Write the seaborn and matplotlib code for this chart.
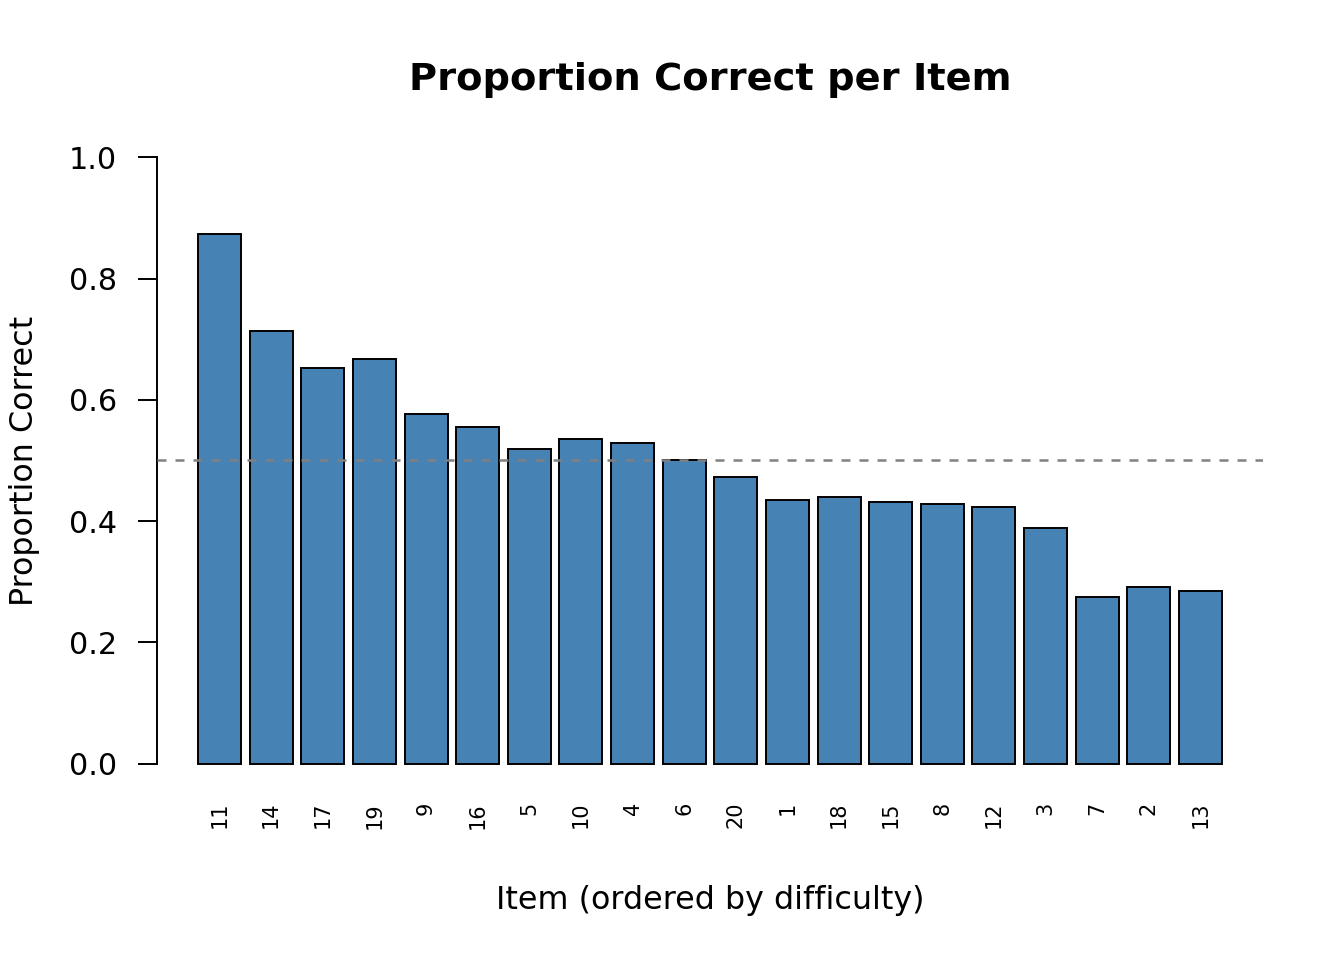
import numpy as np
import pandas as pd
import matplotlib
matplotlib.use("Agg")
import matplotlib.pyplot as plt
import seaborn as sns

# items ordered by difficulty, proportion correct
items = ["11", "14", "17", "19", "9", "16", "5", "10", "4", "6",
         "20", "1", "18", "15", "8", "12", "3", "7", "2", "13"]
prop_correct = [0.873, 0.713, 0.652, 0.667, 0.577, 0.555, 0.519, 0.535, 0.529, 0.501,
                0.473, 0.435, 0.440, 0.432, 0.428, 0.423, 0.389, 0.275, 0.292, 0.285]
chance_line = 0.5

sns.set_style("white")
plt.rcParams['font.family'] = ['DejaVu Sans']
plt.rcParams['text.color'] = 'black'
plt.rcParams['axes.labelcolor'] = 'black'
plt.rcParams['xtick.color'] = 'black'
plt.rcParams['ytick.color'] = 'black'

df = pd.DataFrame({"item": items, "prop": prop_correct})

fig = plt.figure(figsize=(13.44, 9.6), dpi=100)
ax = fig.add_axes([157/1344, 1 - 788/960, 1106/1344, 655/960])

sns.barplot(data=df, x="item", y="prop", order=items, color="steelblue",
            saturation=1, edgecolor="black", linewidth=1.4, width=0.833, ax=ax)

# reference line at 0.5
ax.axhline(chance_line, color="#808080", linestyle=(0, (3.6, 3.6)), linewidth=1.8, zorder=5)

ax.set_xlim(-1.21, 20.21)
ax.set_ylim(-0.04, 1.04)
ax.set_yticks([0.0, 0.2, 0.4, 0.6, 0.8, 1.0])
ax.set_yticklabels(["0.0", "0.2", "0.4", "0.6", "0.8", "1.0"])

for s in ["top", "right", "bottom"]:
    ax.spines[s].set_visible(False)
ax.spines["left"].set_bounds(0, 1)
ax.spines["left"].set_linewidth(1.4)
ax.spines["left"].set_color("black")

ax.tick_params(axis="y", length=13.7, width=1.4, labelsize=21.8, pad=15, left=True)
ax.tick_params(axis="x", length=0, labelsize=15, pad=10)
for lab in ax.get_xticklabels():
    lab.set_rotation(90)
    lab.set_va("top")
    lab.set_ha("center")

ax.set_xlabel("Item (ordered by difficulty)", fontsize=22.9, va="center")
ax.set_ylabel("Proportion Correct", fontsize=22.9, va="center")
ax.xaxis.set_label_coords(0.5, (788 - 900) / 655)
ax.yaxis.set_label_coords((25 - 157) / 1106, 0.5)

fig.text(710/1344, 1 - 80/960, "Proportion Correct per Item", fontsize=27.6,
         fontweight="bold", ha="center", va="center")

fig.savefig("out.png", dpi=100)
